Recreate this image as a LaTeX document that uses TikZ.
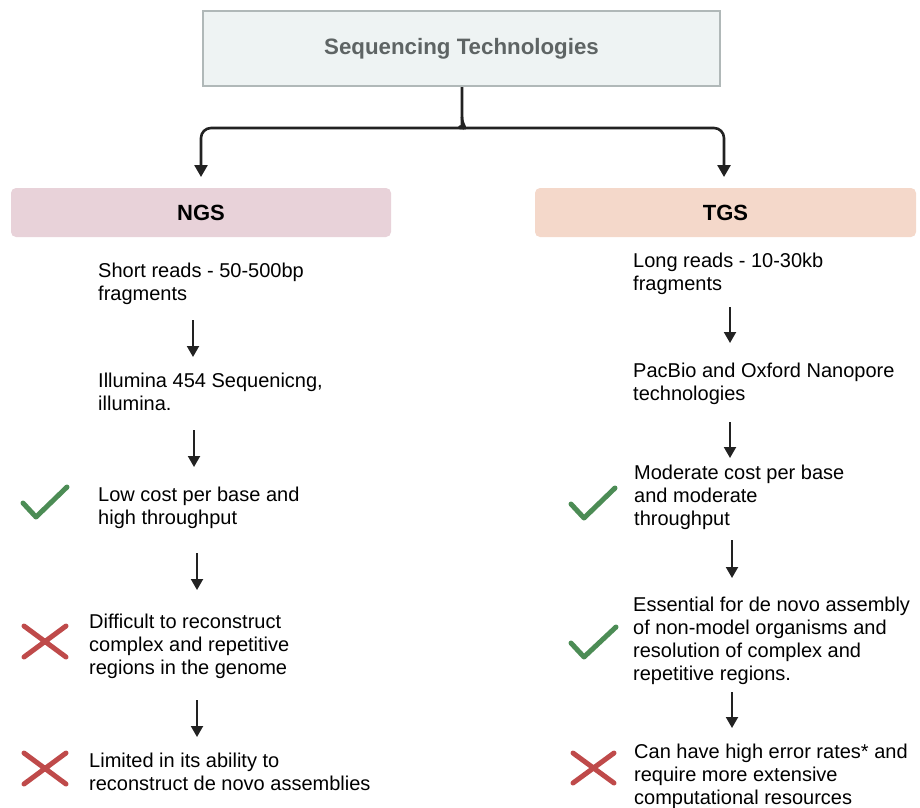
\documentclass[tikz,border=0pt]{standalone}
\usepackage{fontspec}
\setmainfont{Liberation Sans}
\usetikzlibrary{arrows.meta}

\definecolor{topfill}{HTML}{EEF3F3}
\definecolor{topline}{HTML}{B0B8B8}
\definecolor{toptext}{HTML}{5E6464}
\definecolor{ngsfill}{HTML}{E8D2D9}
\definecolor{tgsfill}{HTML}{F4D8CA}
\definecolor{okgreen}{HTML}{4C8C55}
\definecolor{badred}{HTML}{BF4A4A}
\definecolor{ink}{HTML}{222222}

% text blocks are placed by the baseline of their last line
\tikzset{
  body/.style={anchor=base west, inner sep=0pt, align=left, text=black,
    font=\fontsize{20}{23}\selectfont},
  headbox/.style={rounded corners=5pt, draw=none, minimum height=49pt, inner sep=0pt,
    font=\fontsize{22}{26}\selectfont\bfseries, text=black},
  stepflow/.style={draw=ink, line width=2pt, -{Triangle[width=12pt,length=11pt]}},
  splitflow/.style={draw=ink, line width=2.6pt, -{Triangle[width=13pt,length=12pt]}},
  tick/.style={draw=okgreen, line width=5pt, line cap=round, line join=round},
  cross/.style={draw=badred, line width=5pt, line cap=round},
}

\begin{document}
\begin{tikzpicture}[x=1pt, y=-1pt]
\useasboundingbox (0,0) rectangle (920,807);

% root box
\node[draw=topline, fill=topfill, line width=2pt, minimum width=517pt, minimum height=75pt,
      inner sep=0pt, font=\fontsize{22.3}{26}\selectfont\bfseries, text=toptext]
  (root) at (461.5,48.5) {Sequencing Technologies};

% category headers
\node[headbox, fill=ngsfill, minimum width=380pt] (ngs) at (201,212.5) {NGS};
\node[headbox, fill=tgsfill, minimum width=381pt] (tgs) at (725.5,212.5) {TGS};

% split connector from the root to both headers
\coordinate (fork) at (462,117);
\coordinate (ngsin) at (201,177);
\coordinate (tgsin) at (724,177);
\draw[splitflow, rounded corners=10pt] (root.south -| fork) -- (fork)
  .. controls (462,125) and (457,128) .. (450,128) -- (201,128) -- (ngsin);
\draw[splitflow, rounded corners=10pt] (fork)
  .. controls (462,125) and (467,128) .. (474,128) -- (724,128) -- (tgsin);

% NGS column
\node[body] (n1) at (98,300) {Short reads - 50-500bp\\fragments};
\node[body] (n2) at (98,410) {Illumina 454 Sequenicng,\\illumina.};
\node[body] (n3) at (98,524) {Low cost per base and\\high throughput};
\node[body] (n4) at (89,674) {Difficult to reconstruct\\complex and repetitive\\regions in the genome};
\node[body] (n5) at (89,790) {Limited in its ability to\\reconstruct de novo assemblies};

\coordinate (a1s) at (193,320); \coordinate (a1e) at (193,357);
\coordinate (a2s) at (194,430); \coordinate (a2e) at (194,467);
\coordinate (a3s) at (197,553); \coordinate (a3e) at (197,590);
\coordinate (a4s) at (197,700); \coordinate (a4e) at (197,737);
\draw[stepflow] (a1s) -- (a1e);
\draw[stepflow] (a2s) -- (a2e);
\draw[stepflow] (a3s) -- (a3e);
\draw[stepflow] (a4s) -- (a4e);

% TGS column
\node[body] (t1) at (633,290) {Long reads - 10-30kb\\fragments};
\node[body] (t2) at (633,400) {PacBio and Oxford Nanopore\\technologies};
\node[body] (t3) at (634,525) {Moderate cost per base\\and moderate\\throughput};
\node[body] (t4) at (633,680) {Essential for de novo assembly\\of non-model organisms and\\resolution of complex and\\repetitive regions.};
\node[body] (t5) at (634,804) {Can have high error rates* and\\require more extensive\\computational resources};

\coordinate (b1s) at (730,307); \coordinate (b1e) at (730,343);
\coordinate (b2s) at (730,422); \coordinate (b2e) at (730,458);
\coordinate (b3s) at (732,540); \coordinate (b3e) at (732,578);
\coordinate (b4s) at (732,692); \coordinate (b4e) at (732,728);
\draw[stepflow] (b1s) -- (b1e);
\draw[stepflow] (b2s) -- (b2e);
\draw[stepflow] (b3s) -- (b3e);
\draw[stepflow] (b4s) -- (b4e);

% pros (ticks) and cons (crosses)
\draw[tick] (23,503) -- (36,517) -- (67,487);
\draw[cross] (24,626) -- (66,657) (24,657) -- (66,626);
\draw[cross] (24,753) -- (66,784) (24,784) -- (66,753);

\draw[tick] (571,504) -- (584,518) -- (615,488);
\draw[tick] (571,643) -- (584,657) -- (616,627);
\draw[cross] (573,753) -- (614,783) (573,783) -- (614,753);
\end{tikzpicture}
\end{document}
